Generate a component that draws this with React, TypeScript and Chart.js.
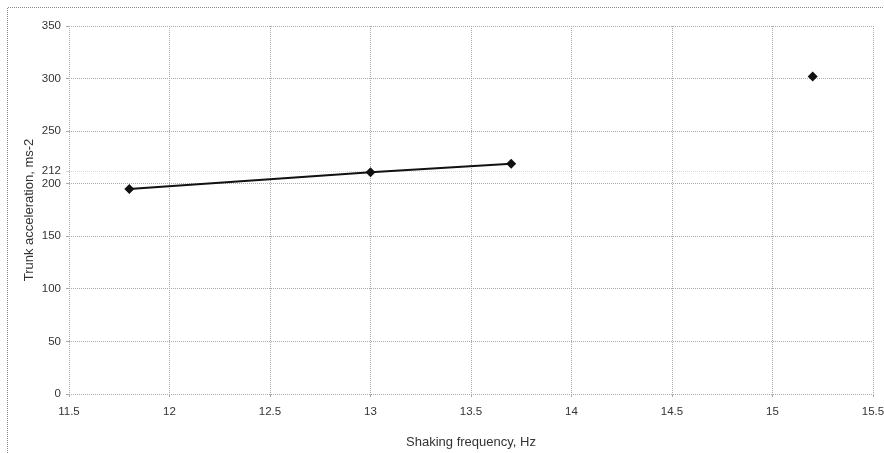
import React, { useEffect, useRef } from "react";
import { Chart, registerables } from "chart.js";

Chart.register(...registerables);

const lineFreq = [11.8, 13.0, 13.7];
const lineAccel = [195, 211, 219];
const singleFreq = [15.2];
const singleAccel = [302];
const yTickValues = [0, 50, 100, 150, 200, 212, 250, 300, 350];
const xTitle = "Shaking frequency, Hz";
const yTitle = "Trunk acceleration, ms-2";

const framePlugin = {
  id: "frame",
  beforeDraw(chart: any) {
    const ctx = chart.ctx;
    ctx.save();
    ctx.fillStyle = "#ffffff";
    ctx.fillRect(0, 0, chart.width, chart.height);
    ctx.strokeStyle = "#888";
    ctx.lineWidth = 1;
    ctx.setLineDash([1, 1]);
    ctx.beginPath();
    ctx.moveTo(7.5, chart.height);
    ctx.lineTo(7.5, 7.5);
    ctx.lineTo(chart.width, 7.5);
    ctx.stroke();
    ctx.restore();
  },
};

const FONT = "Liberation Sans, Arial, sans-serif";

export default function App() {
  const ref = useRef<HTMLCanvasElement>(null);
  useEffect(() => {
    const chart = new Chart(ref.current!, {
      type: "scatter",
      data: {
        datasets: [
          {
            data: lineFreq.map((x, i) => ({ x, y: lineAccel[i] })),
            showLine: true,
            borderColor: "#111",
            backgroundColor: "#111",
            borderWidth: 2,
            pointStyle: "rectRot",
            pointRadius: 5,
            pointBorderWidth: 0,
          },
          {
            data: singleFreq.map((x, i) => ({ x, y: singleAccel[i] })),
            showLine: false,
            borderColor: "#111",
            backgroundColor: "#111",
            pointStyle: "rectRot",
            pointRadius: 5,
            pointBorderWidth: 0,
          },
        ],
      },
      options: {
        animation: false,
        responsive: false,
        layout: { padding: { top: 26, right: 11, left: 0, bottom: 0 } },
        plugins: { legend: { display: false }, tooltip: { enabled: false } },
        scales: {
          x: {
            type: "linear",
            min: 11.5,
            max: 15.5,
            ticks: {
              stepSize: 0.5,
              color: "#333",
              font: { family: FONT, size: 11.5 },
              padding: 8,
              maxRotation: 0,
              callback: (v: any) => String(Math.round(Number(v) * 10) / 10),
            },
            grid: { color: "#aaaaaa", tickLength: 3, tickColor: "#aaaaaa" },
            border: { display: false, dash: [1, 1] },
            title: { display: true, text: xTitle, color: "#333", font: { family: FONT, size: 13 }, padding: { top: 0, bottom: 3 } },
            afterFit: (s: any) => {
              s.height = 59;
              s.paddingLeft = 0;
              s.paddingRight = 0;
            },
          },
          y: {
            type: "linear",
            min: 0,
            max: 350,
            afterBuildTicks: (s: any) => { s.ticks = yTickValues.map((v) => ({ value: v })); },
            ticks: { color: "#333", font: { family: FONT, size: 11.5 }, padding: 5, callback: (v: any) => String(v) },
            grid: {
              color: (c: any) => (c.tick && c.tick.value === 212 ? "#d8d8d8" : "#aaaaaa"),
              tickLength: 3,
            },
            border: { display: false, dash: [1, 1] },
            title: { display: true, text: yTitle, color: "#333", font: { family: FONT, size: 13 }, padding: { top: 22, bottom: 0 } },
            afterFit: (s: any) => {
              s.width = 69;
              s.paddingTop = 0;
              s.paddingBottom = 0;
            },
          },
        },
      },
      plugins: [framePlugin],
    } as any);
    return () => chart.destroy();
  }, []);
  return (
    <div style={{ position: "fixed", left: 0, top: 0, width: 884, height: 453 }}>
      <canvas ref={ref} width={884} height={453} style={{ width: 884, height: 453 }} />
    </div>
  );
}
